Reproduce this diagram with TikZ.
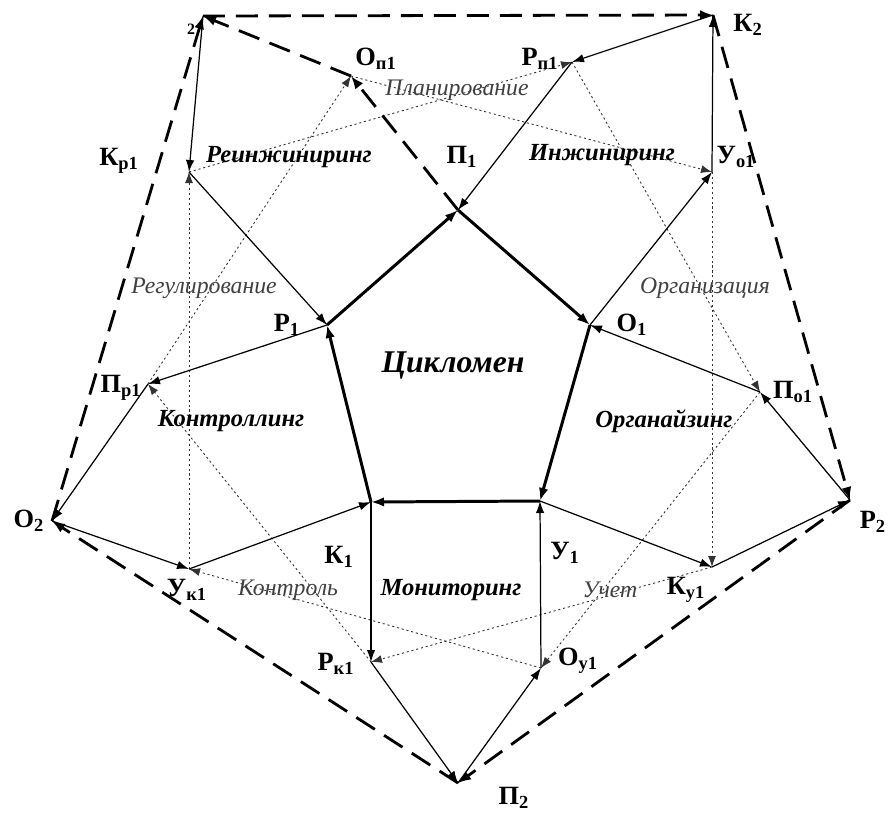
\documentclass[tikz,border=0pt]{standalone}
\usepackage{fontspec}
\setmainfont{Liberation Serif}
\usetikzlibrary{arrows.meta}
\newcommand{\vx}[2]{\textbf{#1}\textsubscript{\textbf{#2}}}
\tikzset{
  cyedge/.style={-{Latex[length=2.6mm,width=1.9mm]}, line width=1.7pt},
  cyouter/.style={-{Latex[length=2.6mm,width=2mm]}, line width=1.6pt, dash pattern=on 4.4mm off 2.2mm},
  cylink/.style={-{Latex[length=2.4mm,width=1.7mm]}, line width=0.7pt},
  cyfun/.style={-{Latex[length=2.2mm,width=1.6mm]}, line width=0.5pt, draw=black!80, dash pattern=on 1.2pt off 1.6pt},
  cyvert/.style={font=\fontsize{15}{18}\selectfont\bfseries, inner sep=0pt},
  cysector/.style={font=\fontsize{14}{17}\selectfont\bfseries\itshape, inner sep=0pt},
  cyfunc/.style={font=\fontsize{13.5}{16}\selectfont\itshape, text=black!75, inner sep=0pt}
}
\begin{document}
\begin{tikzpicture}[x=0.02cm, y=-0.02cm]
  \useasboundingbox (0,0) rectangle (894,816);
  % inner pentagon
  \coordinate (P1) at (458,210);
  \coordinate (O1) at (590,325);
  \coordinate (U1) at (540,501);
  \coordinate (K1) at (371,502);
  \coordinate (R1) at (327,325);
  % outer pentagon
  \coordinate (U2) at (203,16);
  \coordinate (K2) at (713,15);
  \coordinate (R2) at (850,500);
  \coordinate (P2) at (458,783);
  \coordinate (O2) at (52,521);
  % intermediate points
  \coordinate (Op1) at (351,76);
  \coordinate (Rp1) at (572,62);
  \coordinate (Uo1) at (712,172);
  \coordinate (Po1) at (760,392);
  \coordinate (Ky1) at (712,567);
  \coordinate (Oy1) at (541,668);
  \coordinate (Rk1) at (371,662);
  \coordinate (Uk1) at (189,569);
  \coordinate (Pr1) at (148,384);
  \coordinate (Kr1) at (189,172);

  \draw[cyfun] (Kr1) -- (Rp1);
  \draw[cyfun] (Op1) -- (Uo1);
  \draw[cyfun] (Rp1) -- (Po1);
  \draw[cyfun] (Uo1) -- (Ky1);
  \draw[cyfun] (Po1) -- (Oy1);
  \draw[cyfun] (Ky1) -- (Rk1);
  \draw[cyfun] (Oy1) -- (Uk1);
  \draw[cyfun] (Rk1) -- (Pr1);
  \draw[cyfun] (Uk1) -- (Kr1);
  \draw[cyfun] (Pr1) -- (Op1);

  \draw[cylink] (O1) -- (Uo1);
  \draw[cylink] (Uo1) -- (K2);
  \draw[cylink] (K2) -- (Rp1);
  \draw[cylink] (Rp1) -- (P1);
  \draw[cylink] (U1) -- (Ky1);
  \draw[cylink] (Ky1) -- (R2);
  \draw[cylink] (R2) -- (Po1);
  \draw[cylink] (Po1) -- (O1);
  \draw[cylink] (K1) -- (Rk1);
  \draw[cylink] (Rk1) -- (P2);
  \draw[cylink] (P2) -- (Oy1);
  \draw[cylink] (Oy1) -- (U1);
  \draw[cylink] (R1) -- (Pr1);
  \draw[cylink] (Pr1) -- (O2);
  \draw[cylink] (O2) -- (Uk1);
  \draw[cylink] (Uk1) -- (K1);
  \draw[cylink] (U2) -- (Kr1);
  \draw[cylink] (Kr1) -- (R1);

  \draw[cyouter] (U2) -- (K2);
  \draw[cyouter] (K2) -- (R2);
  \draw[cyouter] (R2) -- (P2);
  \draw[cyouter] (P2) -- (O2);
  \draw[cyouter] (O2) -- (U2);
  \draw[cyouter] (P1) -- (Op1);
  \draw[cyouter] (Op1) -- (U2);

  \draw[cyedge] (R1) -- (P1);
  \draw[cyedge] (P1) -- (O1);
  \draw[cyedge] (O1) -- (U1);
  \draw[cyedge] (U1) -- (K1);
  \draw[cyedge] (K1) -- (R1);

  \node[font=\fontsize{9}{10}\selectfont\bfseries, inner sep=0pt] (lU2) at (191,29) {2};
  \node[cyvert] (lK2) at (748,25) {\vx{К}{2}};
  \node[cyvert] (lR2) at (873,522) {\vx{Р}{2}};
  \node[cyvert] (lP2) at (514,798) {\vx{П}{2}};
  \node[cyvert] (lO2) at (29,521) {\vx{О}{2}};
  \node[cyvert] (lP1) at (462,157) {\vx{П}{1}};
  \node[cyvert] (lO1) at (632,325) {\vx{О}{1}};
  \node[cyvert] (lU1) at (565,553) {\vx{У}{1}};
  \node[cyvert] (lK1) at (339,557) {\vx{К}{1}};
  \node[cyvert] (lR1) at (287,325) {\vx{Р}{1}};
  \node[cyvert] (lOp1) at (376,59) {\vx{О}{п1}};
  \node[cyvert] (lRp1) at (540,59) {\vx{Р}{п1}};
  \node[cyvert] (lUo1) at (736,157) {\vx{У}{о1}};
  \node[cyvert] (lPo1) at (793,392) {\vx{П}{о1}};
  \node[cyvert] (lKy1) at (686,590) {\vx{К}{у1}};
  \node[cyvert] (lOy1) at (578,661) {\vx{О}{у1}};
  \node[cyvert] (lRk1) at (336,664) {\vx{Р}{к1}};
  \node[cyvert] (lUk1) at (187,590) {\vx{У}{к1}};
  \node[cyvert] (lPr1) at (121,388) {\vx{П}{р1}};
  \node[cyvert] (lKr1) at (119,161) {\vx{К}{р1}};

  \node[cysector, font=\fontsize{18}{21}\selectfont\bfseries\itshape] (core) at (453,366) {Цикломен};
  \node[cysector] (reing) at (289,157) {Реинжиниринг};
  \node[cysector] (eng) at (602,155) {Инжиниринг};
  \node[cysector] (orgz) at (664,421) {Органайзинг};
  \node[cysector] (monit) at (451,590) {Мониторинг};
  \node[cysector] (contrl) at (231,421) {Контроллинг};

  \node[cyfunc] (plan) at (457,90) {Планирование};
  \node[cyfunc] (org) at (705,288) {Организация};
  \node[cyfunc] (acc) at (610,590) {Учет};
  \node[cyfunc] (ctrl) at (288,590) {Контроль};
  \node[cyfunc] (reg) at (204,288) {Регулирование};
\end{tikzpicture}
\end{document}
